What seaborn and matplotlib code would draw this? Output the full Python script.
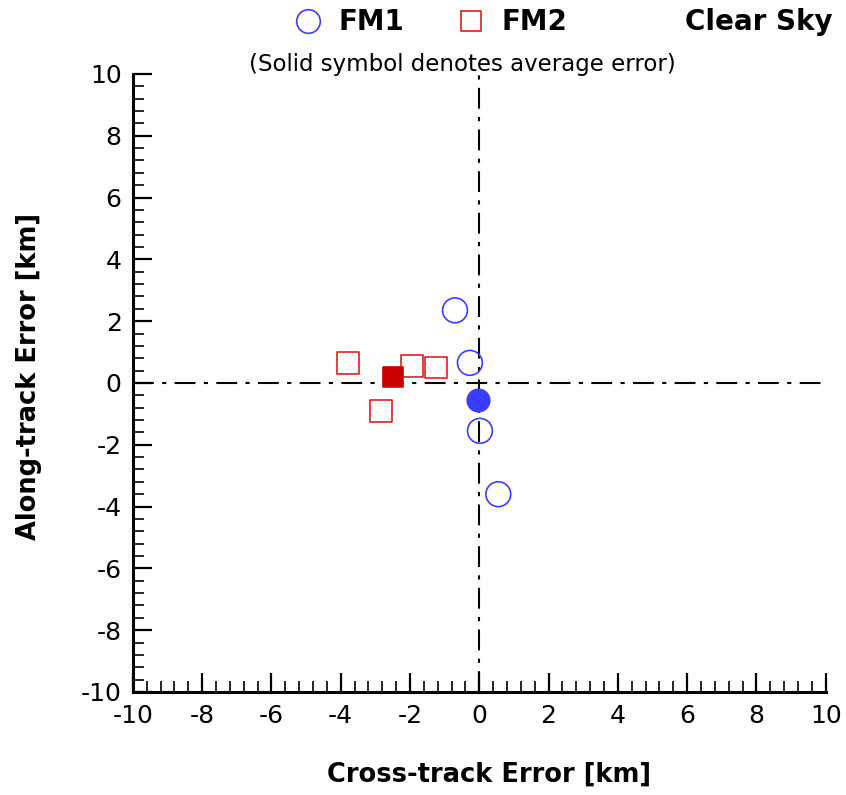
import numpy as np
import pandas as pd
import seaborn as sns
import matplotlib.pyplot as plt
from matplotlib.lines import Line2D
from matplotlib.ticker import MultipleLocator

# individual errors [km]
fm1_cross = [-0.7, -0.27, 0.02, 0.55]
fm1_along = [2.35, 0.65, -1.55, -3.6]
fm2_cross = [-3.8, -2.85, -1.95, -1.25]
fm2_along = [0.65, -0.9, 0.55, 0.5]

# average errors [km]
fm1_avg = (-0.05, -0.55)
fm2_avg = (-2.5, 0.2)

blue = '#3c3cff'
red = '#dd2020'

sns.set_style('ticks')
plt.rcParams['font.family'] = ['DejaVu Sans']
plt.rcParams['axes.unicode_minus'] = False
for k in ['text.color', 'axes.labelcolor', 'xtick.color', 'ytick.color', 'axes.edgecolor']:
    plt.rcParams[k] = 'black'

fm1 = pd.DataFrame({'cross': fm1_cross, 'along': fm1_along})
fm2 = pd.DataFrame({'cross': fm2_cross, 'along': fm2_along})

fig = plt.figure(figsize=(8.46, 7.95), dpi=100)
ax = fig.add_axes([0.157, 0.1296, 0.819, 0.7774])

ax.axhline(0, color='black', lw=1.5, dashes=(10, 4, 2, 4), zorder=1)
ax.axvline(0, color='black', lw=1.5, dashes=(10, 4, 2, 4), zorder=1)

sns.scatterplot(data=fm1, x='cross', y='along', ax=ax, marker='o', s=320,
                facecolor='none', edgecolor=blue, linewidth=1.2, zorder=3)
sns.scatterplot(data=fm2, x='cross', y='along', ax=ax, marker='s', s=250,
                facecolor='none', edgecolor=red, linewidth=1.2, zorder=3)
sns.scatterplot(x=[fm1_avg[0]], y=[fm1_avg[1]], ax=ax, marker='o', s=260,
                color=blue, edgecolor=blue, zorder=4)
sns.scatterplot(x=[fm2_avg[0]], y=[fm2_avg[1]], ax=ax, marker='s', s=210,
                color='#cc0000', edgecolor='#cc0000', zorder=4)

ax.set_xlim(-10, 10)
ax.set_ylim(-10, 10)
ax.xaxis.set_major_locator(MultipleLocator(2))
ax.yaxis.set_major_locator(MultipleLocator(2))
ax.xaxis.set_minor_locator(MultipleLocator(0.4))
ax.yaxis.set_minor_locator(MultipleLocator(0.4))
ax.tick_params(which='major', direction='in', length=14, width=1.6,
               labelsize=18)
ax.tick_params(axis='x', which='major', pad=9)
ax.tick_params(axis='y', which='major', pad=8)
ax.tick_params(which='minor', direction='in', length=8, width=1.2)
for s in ['top', 'right']:
    ax.spines[s].set_visible(False)
for s in ['left', 'bottom']:
    ax.spines[s].set_linewidth(2.2)

ax.set_xlabel('Cross-track Error [km]', fontsize=18.5, fontweight='bold', va='center')
ax.set_ylabel('Along-track Error [km]', fontsize=18.5, fontweight='bold', va='center')
ax.xaxis.set_label_coords(0.514, -0.134)
ax.yaxis.set_label_coords(-0.150, 0.51)

handles = [
    Line2D([], [], ls='none', marker='o', ms=17, mfc='none', mec=blue, mew=1.2),
    Line2D([], [], ls='none', marker='s', ms=15, mfc='none', mec=red, mew=1.2),
]
fig.legend(handles, ['FM1', 'FM2'], ncol=2, frameon=False,
           loc='center', bbox_to_anchor=(0.508, 0.972),
           prop={'size': 20, 'weight': 'bold'}, columnspacing=1.8,
           handletextpad=0.5, handlelength=1.2)
fig.text(0.984, 0.972, 'Clear Sky', ha='right', va='center',
         fontsize=20, fontweight='bold')
fig.text(0.547, 0.919, '(Solid symbol denotes average error)', ha='center',
         va='center', fontsize=16.5)

fig.savefig('out.png', dpi=100)
